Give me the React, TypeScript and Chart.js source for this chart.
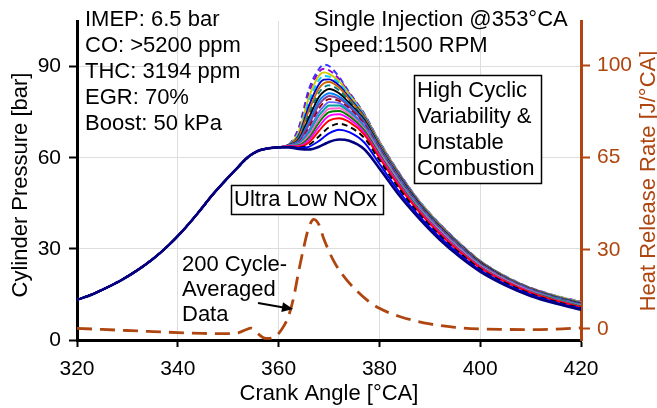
import React, { useEffect, useRef } from "react";
import { Chart, registerables } from "chart.js";

Chart.register(...registerables);

const FONT = '"Liberation Sans", Arial, Helvetica, sans-serif';
const BROWN = "#B0460F";

// Axis ticks
const X_TICKS = [320, 340, 360, 380, 400, 420];
const LEFT_TICKS = [0, 30, 60, 90];
const RIGHT_TICKS = [0, 30, 65, 100];

// Shared compression stroke (crank angle [°CA], pressure [bar])
const CA_COMPRESSION = [320, 323, 326, 329, 332, 335, 338, 341, 344, 347, 350, 352, 354, 356, 358, 360];
const P_COMPRESSION = [13.2, 15.0, 17.3, 19.9, 23.0, 26.6, 30.9, 36.0, 41.8, 48.0, 53.5, 57.0, 60.3, 62.3, 63.1, 63.4];

// Combustion / expansion crank angles for each cycle
const CA_COMBUSTION = [362, 364, 366, 368, 369, 370, 372, 374, 377, 380, 384, 388, 392, 396, 400, 405, 410, 415, 420];

const CYCLE_01 = [63.4, 62.9, 62.7, 63.6, 64.4, 65.2, 66.0, 65.6, 62.8, 56.5, 47.5, 39.8, 33.0, 27.3, 22.5, 18.0, 14.5, 12.0, 10.0];
const CYCLE_02 = [63.5, 63.2, 63.6, 65.5, 66.8, 68.0, 69.2, 68.4, 65.0, 58.0, 48.6, 40.6, 33.8, 28.0, 23.0, 18.4, 14.9, 12.3, 10.3];
const CYCLE_03 = [63.6, 63.4, 64.2, 67.0, 68.6, 70.0, 71.2, 70.2, 66.5, 59.2, 49.6, 41.3, 34.4, 28.5, 23.4, 18.8, 15.2, 12.6, 10.5];
const CYCLE_04 = [63.7, 63.6, 65.0, 68.8, 70.7, 72.2, 73.0, 71.8, 67.6, 60.0, 50.3, 41.9, 34.9, 28.9, 23.8, 19.1, 15.5, 12.9, 10.8];
const CYCLE_05 = [63.8, 63.9, 65.8, 70.2, 72.3, 73.8, 74.3, 72.8, 68.3, 60.6, 50.8, 42.3, 35.3, 29.2, 24.0, 19.3, 15.7, 13.0, 10.9];
const CYCLE_06 = [63.8, 64.1, 66.5, 71.5, 73.6, 75.0, 75.4, 73.7, 69.0, 61.2, 51.3, 42.7, 35.6, 29.5, 24.2, 19.5, 15.8, 13.2, 11.1];
const CYCLE_07 = [63.9, 64.3, 67.3, 72.6, 74.7, 76.1, 76.3, 74.4, 69.5, 61.7, 51.7, 43.0, 35.9, 29.8, 24.4, 19.7, 16.0, 13.3, 11.2];
const CYCLE_08 = [63.9, 64.6, 68.2, 73.8, 75.8, 77.2, 77.2, 75.0, 70.0, 62.1, 52.0, 43.3, 36.1, 30.0, 24.6, 19.8, 16.1, 13.5, 11.3];
const CYCLE_09 = [64.0, 64.8, 69.0, 75.0, 77.0, 78.3, 78.0, 75.6, 70.5, 62.5, 52.3, 43.6, 36.4, 30.2, 24.8, 20.0, 16.3, 13.6, 11.5];
const CYCLE_10 = [64.0, 65.0, 69.8, 76.2, 78.2, 79.3, 78.7, 76.2, 71.0, 62.9, 52.6, 43.9, 36.6, 30.4, 24.9, 20.1, 16.4, 13.7, 11.6];
const CYCLE_11 = [64.0, 65.3, 70.8, 77.4, 79.3, 80.3, 79.4, 76.8, 71.5, 63.2, 52.9, 44.1, 36.8, 30.6, 25.1, 20.2, 16.5, 13.8, 11.7];
const CYCLE_12 = [64.1, 65.6, 71.8, 78.6, 80.4, 81.2, 80.1, 77.3, 71.9, 63.5, 53.2, 44.3, 37.0, 30.8, 25.2, 20.3, 16.6, 13.9, 11.8];
const CYCLE_13 = [64.1, 66.0, 73.0, 80.0, 81.8, 82.6, 81.2, 78.0, 72.4, 63.8, 53.5, 44.6, 37.2, 30.9, 25.4, 20.4, 16.7, 14.0, 11.9];
const CYCLE_14 = [64.1, 66.4, 74.2, 81.4, 83.2, 83.8, 82.2, 78.7, 72.8, 64.1, 53.7, 44.8, 37.4, 31.1, 25.5, 20.5, 16.8, 14.1, 12.0];
const CYCLE_15 = [64.2, 66.8, 75.5, 82.8, 84.5, 84.9, 83.1, 79.3, 73.2, 64.4, 54.0, 45.0, 37.6, 31.2, 25.7, 20.6, 16.9, 14.2, 12.1];
const CYCLE_16 = [64.2, 67.3, 77.0, 84.2, 85.7, 85.8, 83.8, 79.8, 73.5, 64.6, 54.2, 45.1, 37.7, 31.4, 25.8, 20.7, 17.0, 14.3, 12.2];
const CYCLE_17 = [64.2, 67.9, 78.4, 85.6, 86.9, 86.7, 84.5, 80.3, 73.8, 64.9, 54.4, 45.3, 37.9, 31.5, 25.9, 20.8, 17.0, 14.4, 12.3];
const CYCLE_18 = [64.2, 68.5, 79.8, 87.0, 88.1, 87.6, 85.2, 80.8, 74.0, 65.1, 54.5, 45.4, 38.0, 31.6, 26.0, 20.9, 17.1, 14.5, 12.4];
const CYCLE_19 = [64.2, 69.2, 81.2, 88.2, 89.3, 88.8, 85.9, 81.2, 74.2, 65.3, 54.7, 45.5, 38.1, 31.7, 26.0, 20.9, 17.1, 14.5, 12.5];
const CYCLE_20 = [64.3, 70.0, 82.5, 89.2, 90.6, 90.2, 86.6, 81.6, 74.5, 65.4, 54.8, 45.6, 38.2, 31.8, 26.1, 21.0, 17.2, 14.6, 12.6];

const CYCLES = [
  CYCLE_01, CYCLE_02, CYCLE_03, CYCLE_04, CYCLE_05, CYCLE_06, CYCLE_07, CYCLE_08, CYCLE_09, CYCLE_10,
  CYCLE_11, CYCLE_12, CYCLE_13, CYCLE_14, CYCLE_15, CYCLE_16, CYCLE_17, CYCLE_18, CYCLE_19, CYCLE_20,
];

const CYCLE_COLORS = [
  "#000080", "#0000FF", "#000000", "#FF0000", "#FF00FF", "#008000", "#FF66CC", "#00A0A0", "#6666FF", "#990000",
  "#7F3F98", "#0080FF", "#000000", "#008080", "#CC6600", "#0000CD", "#00CCFF", "#CCCC00", "#9900CC", "#3333FF",
];
const CYCLE_DASHED = [
  false, false, true, false, false, false, false, false, false, true,
  false, false, false, true, false, false, true, false, true, true,
];

// 200-cycle averaged heat release rate [J/°CA]
const HRR_CA = [320, 325, 330, 335, 340, 345, 350, 352, 353.5, 354.5, 356, 357.5, 359, 360.5, 362, 363, 364, 365, 366, 367, 368, 369, 371, 373.5, 377.5, 380, 384, 390, 395, 400, 405, 410, 415, 420];
const HRR_VALUES = [0.2, -0.2, -0.6, -1.0, -1.4, -1.7, -1.8, -1.5, -0.3, 0.3, -2.0, -3.6, -3.2, -0.5, 5.0, 12.0, 22.0, 31.0, 38.5, 41.5, 39.5, 34.0, 25.5, 18.6, 11.0, 7.8, 4.7, 1.9, 0.6, 0.0, -0.2, -0.3, -0.1, 0.4];

const LEFT_NOTES = ["IMEP: 6.5 bar", "CO: >5200 ppm", "THC: 3194 ppm", "EGR: 70%", "Boost: 50 kPa"];
const TOP_NOTES = ["Single Injection @353°CA", "Speed:1500 RPM"];
const BOX_NOTES = ["High Cyclic", "Variability &", "Unstable", "Combustion"];
const AVG_NOTES = ["200 Cycle-", "Averaged", "Data"];

const annotationPlugin = {
  id: "annotations",
  afterDraw(chart: any) {
    const ctx = chart.ctx as CanvasRenderingContext2D;
    ctx.save();
    ctx.font = `22px ${FONT}`;
    ctx.fillStyle = "#000";
    ctx.textAlign = "left";
    ctx.textBaseline = "alphabetic";

    LEFT_NOTES.forEach((t, i) => ctx.fillText(t, 85, 26 + i * 26));
    TOP_NOTES.forEach((t, i) => ctx.fillText(t, 314, 26 + i * 26));

    // High cyclic variability box
    ctx.fillStyle = "#fff";
    ctx.fillRect(414, 75, 127, 108);
    ctx.strokeStyle = "#000";
    ctx.lineWidth = 1.5;
    ctx.strokeRect(414.5, 75.5, 127, 108);
    ctx.fillStyle = "#000";
    BOX_NOTES.forEach((t, i) => ctx.fillText(t, 417, 97 + i * 26));

    // Ultra low NOx box
    ctx.fillStyle = "#fff";
    ctx.fillRect(231, 185, 152, 29);
    ctx.strokeRect(231.5, 185.5, 152, 29);
    ctx.fillStyle = "#000";
    ctx.fillText("Ultra Low NOx", 234, 205.5);

    // averaged data note + arrow
    AVG_NOTES.forEach((t, i) => ctx.fillText(t, 182, 271 + i * 25));
    const x0 = 258, y0 = 303, x1 = 293, y1 = 309;
    const ang = Math.atan2(y1 - y0, x1 - x0);
    ctx.strokeStyle = "#000";
    ctx.lineWidth = 2;
    ctx.beginPath();
    ctx.moveTo(x0, y0);
    ctx.lineTo(x1 - 8 * Math.cos(ang), y1 - 8 * Math.sin(ang));
    ctx.stroke();
    ctx.beginPath();
    ctx.moveTo(x1, y1);
    ctx.lineTo(x1 - 11 * Math.cos(ang) + 5 * Math.sin(ang), y1 - 11 * Math.sin(ang) - 5 * Math.cos(ang));
    ctx.lineTo(x1 - 11 * Math.cos(ang) - 5 * Math.sin(ang), y1 - 11 * Math.sin(ang) + 5 * Math.cos(ang));
    ctx.closePath();
    ctx.fill();

    // axis titles
    const area = chart.chartArea;
    ctx.textAlign = "center";
    ctx.fillText("Crank Angle [°CA]", (area.left + area.right) / 2, 400);

    ctx.save();
    ctx.translate(27, 185);
    ctx.rotate(-Math.PI / 2);
    ctx.fillText("Cylinder Pressure [bar]", 0, 0);
    ctx.restore();

    ctx.save();
    ctx.fillStyle = BROWN;
    ctx.translate(655, 181);
    ctx.rotate(-Math.PI / 2);
    ctx.fillText("Heat Release Rate [J/°CA]", 0, 0);
    ctx.restore();

    ctx.restore();
  },
};

export default function App() {
  const ref = useRef<HTMLCanvasElement>(null);

  useEffect(() => {
    const canvas = ref.current;
    if (!canvas) return;

    const pressureSets = CYCLES.map((vals, i) => ({
      label: `Cycle ${i + 1}`,
      data: [
        ...CA_COMPRESSION.map((x, j) => ({ x, y: P_COMPRESSION[j] })),
        ...CA_COMBUSTION.map((x, j) => ({ x, y: vals[j] })),
      ],
      borderColor: CYCLE_COLORS[i],
      borderWidth: i === 0 ? 2.6 : 1.9,
      borderDash: CYCLE_DASHED[i] ? [6, 4] : [],
      pointRadius: 0,
      cubicInterpolationMode: "monotone" as const,
      fill: false,
      yAxisID: "y",
    }));

    const hrrSet = {
      label: "HRR",
      data: HRR_CA.map((x, j) => ({ x, y: HRR_VALUES[j] })),
      borderColor: BROWN,
      borderWidth: 2.8,
      borderDash: [15, 8],
      pointRadius: 0,
      cubicInterpolationMode: "monotone" as const,
      fill: false,
      yAxisID: "y1",
    };

    const tickFont = { family: FONT, size: 21 };

    const chart = new Chart(canvas, {
      type: "line",
      data: { datasets: [hrrSet as any, ...(pressureSets as any[])] },
      options: {
        animation: false,
        responsive: false,
        events: [],
        layout: { padding: { top: 21, left: 0, right: 0, bottom: 0 } },
        plugins: { legend: { display: false }, tooltip: { enabled: false } },
        scales: {
          x: {
            type: "linear",
            min: 320,
            max: 420,
            afterBuildTicks: (s: any) => {
              s.ticks = X_TICKS.map((v) => ({ value: v }));
            },
            afterFit: (s: any) => {
              s.height = 68;
            },
            grid: {
              color: (c: any) =>
                c.tick && (c.tick.value === 320 || c.tick.value === 420) ? "rgba(0,0,0,0)" : "#DDDDDD",
              lineWidth: 1,
              tickColor: "#000",
              tickLength: 7,
              tickWidth: 2,
            },
            border: { color: "#000", width: 3 },
            ticks: { font: tickFont, color: "#000", padding: 10, maxRotation: 0 },
          },
          y: {
            type: "linear",
            position: "left",
            min: 0,
            max: 105,
            afterBuildTicks: (s: any) => {
              s.ticks = LEFT_TICKS.map((v) => ({ value: v }));
            },
            afterFit: (s: any) => {
              s.width = 77;
            },
            grid: {
              color: (c: any) => (c.tick && c.tick.value === 0 ? "rgba(0,0,0,0)" : "#DDDDDD"),
              lineWidth: 1,
              tickColor: "#000",
              tickLength: 8,
              tickWidth: 2,
            },
            border: { color: "#000", width: 3 },
            ticks: { font: tickFont, color: "#000", padding: 8 },
          },
          y1: {
            type: "linear",
            position: "right",
            min: -4.2,
            max: 116.7,
            afterBuildTicks: (s: any) => {
              s.ticks = RIGHT_TICKS.map((v) => ({ value: v }));
            },
            afterFit: (s: any) => {
              s.width = 76;
            },
            grid: {
              drawOnChartArea: false,
              color: BROWN,
              tickColor: BROWN,
              tickLength: 9,
              tickWidth: 2,
            },
            border: { color: BROWN, width: 3 },
            ticks: { font: tickFont, color: BROWN, padding: 7 },
          },
        },
      },
      plugins: [annotationPlugin],
    });

    return () => chart.destroy();
  }, []);

  return (
    <div style={{ position: "fixed", left: 0, top: 0, width: 657, height: 408, background: "#fff" }}>
      <canvas ref={ref} width={657} height={408} style={{ display: "block" }} />
    </div>
  );
}
